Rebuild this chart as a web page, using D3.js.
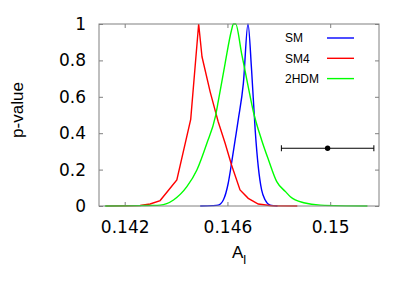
<!DOCTYPE html>
<html>
<head>
<meta charset="utf-8">
<script src="https://cdn.jsdelivr.net/npm/d3@7"></script>
<style>
  body { margin: 0; background: #fff; }
  svg { display: block; }
  .tick text { font-family: "DejaVu Sans", sans-serif; font-size: 17px; fill: #000; }
  .tick line { stroke: #808080; }
  .title { font-family: "Liberation Sans", Arial, sans-serif; font-size: 17px; }
  .legend text { font-family: "Liberation Sans", Arial, sans-serif; font-size: 12px; }
</style>
</head>
<body>
<div id="chart"></div>
<script>
// A_l values and p-values
const smA = [0.14494, 0.14541, 0.14564, 0.14584, 0.14603, 0.14616, 0.14630, 0.14642, 0.14662, 0.14680,
             0.14694, 0.14708, 0.14720, 0.14733, 0.14747, 0.14766, 0.14795];
const smP = [0, 0.002, 0.005, 0.033, 0.125, 0.235, 0.363, 0.473, 0.674, 1.0,
             0.747, 0.418, 0.216, 0.088, 0.033, 0.005, 0];

const sm4A = [0.14127, 0.14260, 0.14299, 0.14338, 0.14403, 0.14457, 0.14488, 0.14501, 0.14533, 0.14564,
              0.14591, 0.14616, 0.14649, 0.14681, 0.14720, 0.14771, 0.14872];
const sm4P = [0, 0.003, 0.011, 0.030, 0.143, 0.476, 1.0, 0.820, 0.626, 0.463,
              0.345, 0.225, 0.088, 0.042, 0.011, 0.001, 0];

const thdmA = [0.14123, 0.14260, 0.14338, 0.14390, 0.14442, 0.14481, 0.14520, 0.14553, 0.14564, 0.14591,
               0.14616, 0.14623, 0.14632, 0.14655, 0.14681, 0.14701, 0.14733, 0.14760, 0.14792, 0.14826,
               0.14845, 0.14897, 0.14962, 0.15145];
const thdmP = [0, 0.002, 0.005, 0.033, 0.106, 0.198, 0.345, 0.491, 0.573, 0.784,
               0.967, 1.0, 1.0, 0.839, 0.655, 0.518, 0.363, 0.253, 0.134, 0.079,
               0.051, 0.018, 0.005, 0];

// measurement with 1 sigma error
const obsA = 0.1499;
const obsErr = 0.0018;
const obsP = 0.3173;

const seriesNames = ['SM', 'SM4', '2HDM'];
const seriesColors = ['#0000ff', '#ff0000', '#00ff00'];

const xTicks = [0.142, 0.146, 0.150];
const xTickLabels = ['0.142', '0.146', '0.15'];
const yTicks = [0, 0.2, 0.4, 0.6, 0.8, 1];
const yTickLabels = ['0', '0.2', '0.4', '0.6', '0.8', '1'];

const width = 415, height = 291;
const margin = { top: 24, right: 36, bottom: 85, left: 99 };
const plotW = width - margin.left - margin.right;
const plotH = height - margin.top - margin.bottom;

const svg = d3.select('#chart').append('svg')
    .attr('width', width)
    .attr('height', height);

const x = d3.scaleLinear().domain([0.141, 0.1519]).range([0, plotW]);
const y = d3.scaleLinear().domain([0, 1]).range([plotH, 0]);

const g = svg.append('g')
    .attr('transform', `translate(${margin.left},${margin.top})`);

// --- Axes (ticks pointing inward, mirrored on top/right) ---
const bottomAxis = d3.axisBottom(x).tickValues(xTicks)
    .tickFormat((d, i) => xTickLabels[i]).tickSizeInner(-4).tickSizeOuter(0).tickPadding(15);
const topAxis = d3.axisTop(x).tickValues(xTicks).tickFormat('').tickSizeInner(-4).tickSizeOuter(0);
const leftAxis = d3.axisLeft(y).tickValues(yTicks)
    .tickFormat((d, i) => yTickLabels[i]).tickSizeInner(-4).tickSizeOuter(0).tickPadding(13);
const rightAxis = d3.axisRight(y).tickValues(yTicks).tickFormat('').tickSizeInner(-4).tickSizeOuter(0);

g.append('g').attr('transform', `translate(0,${plotH})`).call(bottomAxis);
g.append('g').call(topAxis);
g.append('g').call(leftAxis);
g.append('g').attr('transform', `translate(${plotW},0)`).call(rightAxis);
g.selectAll('.domain').remove();

// --- Curves ---
const series = [
    { a: smA, p: smP },
    { a: sm4A, p: sm4P },
    { a: thdmA, p: thdmP }
];
const curves = [d3.curveMonotoneX, d3.curveLinear, d3.curveMonotoneX];

series.forEach((s, i) => {
    const pts = s.a.map((a, j) => [a, s.p[j]]);
    g.append('path')
        .datum(pts)
        .attr('fill', 'none')
        .attr('stroke', seriesColors[i])
        .attr('stroke-width', 1.4)
        .attr('d', d3.line().x(d => x(d[0])).y(d => y(d[1])).curve(curves[i]));
});

// --- Frame ---
g.append('rect')
    .attr('x', 0).attr('y', 0)
    .attr('width', plotW).attr('height', plotH)
    .attr('fill', 'none')
    .attr('stroke', '#808080')
    .attr('stroke-width', 1);

// --- Measurement point ---
const ey = y(obsP);
g.append('line')
    .attr('x1', x(obsA - obsErr)).attr('x2', x(obsA + obsErr))
    .attr('y1', ey).attr('y2', ey)
    .attr('stroke', '#000').attr('stroke-width', 1);
[obsA - obsErr, obsA + obsErr].forEach(v => {
    g.append('line')
        .attr('x1', x(v)).attr('x2', x(v))
        .attr('y1', ey - 3).attr('y2', ey + 3)
        .attr('stroke', '#000').attr('stroke-width', 1);
});
g.append('circle')
    .attr('cx', x(obsA)).attr('cy', ey).attr('r', 2.7)
    .attr('fill', '#000');

// --- Legend ---
const legend = g.append('g').attr('class', 'legend');
seriesNames.forEach((name, i) => {
    const ly = 14 + i * 20.3;
    legend.append('text')
        .attr('x', 186).attr('y', ly)
        .attr('dy', '0.36em')
        .text(name);
    legend.append('line')
        .attr('x1', 228).attr('x2', 255)
        .attr('y1', ly).attr('y2', ly)
        .attr('stroke', seriesColors[i])
        .attr('stroke-width', 1.4);
});

// --- Axis titles ---
svg.append('text')
    .attr('class', 'title')
    .attr('transform', `translate(23,110) rotate(-90)`)
    .attr('text-anchor', 'middle')
    .text('p-value');

const xt = svg.append('text')
    .attr('class', 'title')
    .attr('x', 239).attr('y', 258)
    .attr('text-anchor', 'middle');
xt.append('tspan').text('A');
xt.append('tspan').attr('dy', 6).attr('font-size', 13).text('l');
</script>
</body>
</html>
